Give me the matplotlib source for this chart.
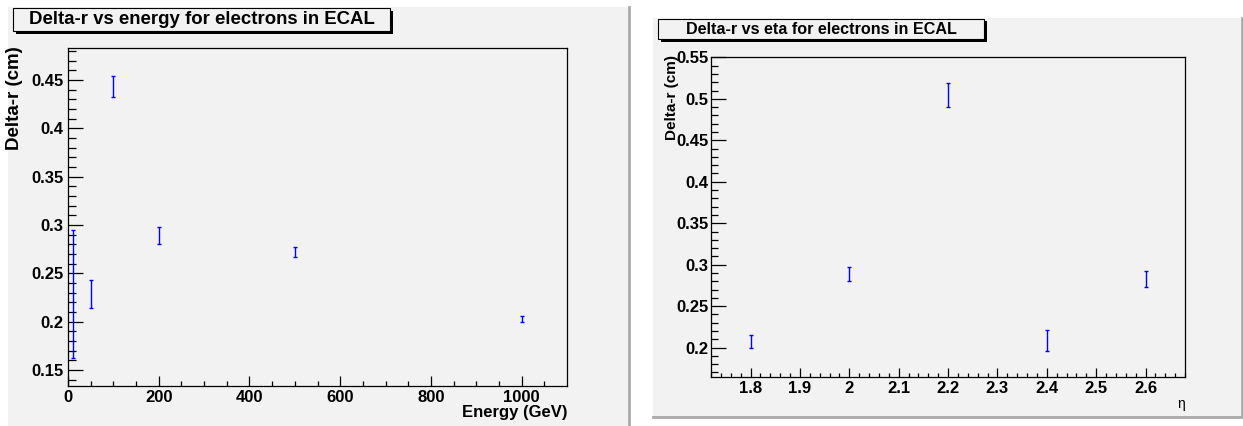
import matplotlib
matplotlib.use("Agg")
import matplotlib.pyplot as plt
from matplotlib.patches import Rectangle
from matplotlib.lines import Line2D
from matplotlib.ticker import MultipleLocator

# data
energy = [10, 50, 100, 200, 500, 1000]
dr_energy = [0.2285, 0.2285, 0.443, 0.289, 0.2718, 0.2027]
err_energy = [0.0665, 0.0145, 0.011, 0.0086, 0.0054, 0.0035]

eta = [1.8, 2.0, 2.2, 2.4, 2.6]
dr_eta = [0.2072, 0.2893, 0.5047, 0.2086, 0.2827]
err_eta = [0.0076, 0.0084, 0.0142, 0.0122, 0.0102]

W, H = 1243, 426
BG = "#f2f2f2"
plt.rcParams['font.family'] = ['Liberation Sans', 'DejaVu Sans']

fig = plt.figure(figsize=(W / 100, H / 100), dpi=100)
fig.patch.set_facecolor("white")


def box(x0, y0, x1, y1):
    # pixel box (top-left origin) -> figure fraction
    return [x0 / W, 1 - y1 / H, (x1 - x0) / W, (y1 - y0) / H]


def px(x, y):
    return x / W, 1 - y / H


# pad backgrounds
l, b, w, h = box(8, 7, 628, 426)
fig.add_artist(Rectangle((l, b), w, h, transform=fig.transFigure, facecolor=BG, edgecolor="none", zorder=0))
fig.add_artist(Line2D([px(629, 0)[0]] * 2, [px(0, 7)[1], px(0, 426)[1]], transform=fig.transFigure, color="#aaaaaa", lw=2))
l, b, w, h = box(653, 18, 1241, 417)
fig.add_artist(Rectangle((l, b), w, h, transform=fig.transFigure, facecolor=BG, edgecolor="none", zorder=0))
fig.add_artist(Line2D([px(653, 0)[0], px(1242, 0)[0], px(1242, 0)[0]], [px(0, 417)[1], px(0, 417)[1], px(0, 18)[1]],
                      transform=fig.transFigure, color="#aaaaaa", lw=2))


def title_box(x0, y0, x1, y1, text, size):
    l, b, w, h = box(x0, y0, x1, y1)
    dx, dy = 2.5 / W, 2.5 / H
    fig.add_artist(Rectangle((l + dx, b - dy), w, h, transform=fig.transFigure, facecolor="black", edgecolor="none", zorder=3))
    fig.add_artist(Rectangle((l, b), w, h, transform=fig.transFigure, facecolor=BG, edgecolor="black", lw=0.8, zorder=4))
    fig.text(l + w / 2, b + h / 2, text, ha="center", va="center", fontsize=size, fontweight="bold", zorder=5)


def style(ax, xmaj, xmin, ymaj, ymin, ylen, xlen, ypad, xpad):
    ax.set_facecolor(BG)
    for s in ax.spines.values():
        s.set_linewidth(0.9)
    ax.xaxis.set_major_locator(MultipleLocator(xmaj))
    ax.xaxis.set_minor_locator(MultipleLocator(xmin))
    ax.yaxis.set_major_locator(MultipleLocator(ymaj))
    ax.yaxis.set_minor_locator(MultipleLocator(ymin))
    ax.tick_params(axis="y", which="major", direction="in", length=ylen[0], width=0.9, pad=ypad, labelsize=12)
    ax.tick_params(axis="y", which="minor", direction="in", length=ylen[1], width=0.9)
    ax.tick_params(axis="x", which="major", direction="in", length=xlen[0], width=0.9, pad=xpad, labelsize=12)
    ax.tick_params(axis="x", which="minor", direction="in", length=xlen[1], width=0.9)


# left: delta-r vs energy
ax1 = fig.add_axes(box(68, 48, 567, 386))
ax1.errorbar(energy, dr_energy, yerr=err_energy, fmt="none", ecolor="#0000ff", elinewidth=1, capsize=1.5, capthick=1)
ax1.set_xlim(0, 1099.9)
ax1.set_ylim(0.1334, 0.483)
style(ax1, 200, 50, 0.05, 0.01, (10.8, 5.6), (7, 3.5), 3.5, 3)
ax1.set_xticks([0, 200, 400, 600, 800, 1000])
ax1.set_xticklabels(["0", "200", "400", "600", "800", "1000"], fontweight="bold")
ax1.set_yticks([0.15, 0.2, 0.25, 0.3, 0.35, 0.4, 0.45])
ax1.set_yticklabels(["0.15", "0.2", "0.25", "0.3", "0.35", "0.4", "0.45"], fontweight="bold")
title_box(13, 8, 390, 31, "Delta-r vs energy for electrons in ECAL", 13.4)
x, y = px(15, 46)
fig.text(x, y, "Delta-r (cm)", rotation=90, ha="center", va="top", fontsize=13.5, fontweight="bold")
x, y = px(567, 413)
fig.text(x, y, "Energy (GeV)", ha="right", va="center", fontsize=12, fontweight="bold")

# right: delta-r vs eta
ax2 = fig.add_axes(box(711, 57, 1185, 377))
ax2.errorbar(eta, dr_eta, yerr=err_eta, fmt="none", ecolor="#0000ff", elinewidth=1, capsize=1.5, capthick=1)
ax2.set_xlim(1.72, 2.68)
ax2.set_ylim(0.1645, 0.5505)
style(ax2, 0.1, 0.02, 0.05, 0.01, (10.8, 5), (6.5, 3), 2, 3)
ax2.set_xticks([1.8, 1.9, 2.0, 2.1, 2.2, 2.3, 2.4, 2.5, 2.6])
ax2.set_xticklabels(["1.8", "1.9", "2", "2.1", "2.2", "2.3", "2.4", "2.5", "2.6"], fontweight="bold")
ax2.set_yticks([0.2, 0.25, 0.3, 0.35, 0.4, 0.45, 0.5, 0.55])
ax2.set_yticklabels(["0.2", "0.25", "0.3", "0.35", "0.4", "0.45", "0.5", "0.55"], fontweight="bold")
title_box(658, 19, 984, 39, "Delta-r vs eta for electrons in ECAL", 11.6)
x, y = px(672, 55)
fig.text(x, y, "Delta-r (cm)", rotation=90, ha="center", va="top", fontsize=11, fontweight="bold")
x, y = px(1185, 404)
fig.text(x, y, "η", ha="right", va="center", fontsize=10)

fig.savefig("out.png", dpi=100)
